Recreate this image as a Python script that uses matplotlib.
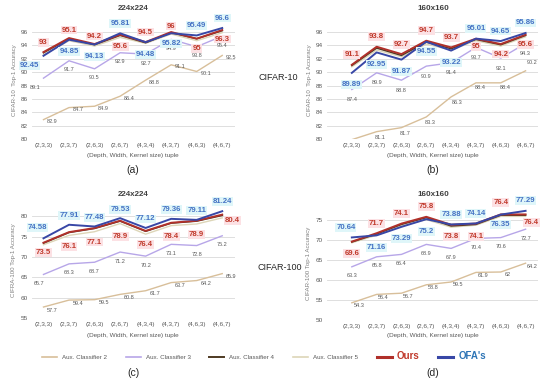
import matplotlib
matplotlib.use('Agg')
import matplotlib.pyplot as plt
from matplotlib.lines import Line2D

plt.rcParams['font.family'] = ['Liberation Sans', 'DejaVu Sans']

tuples = ['(2,3,3)', '(2,3,7)', '(2,6,3)', '(2,6,7)', '(4,3,4)', '(4,3,7)', '(4,6,3)', '(4,6,7)']

# (a) CIFAR-10, 224x224
a_aux2 = [82.9, 84.7, 84.9, 86.4, 88.8, 91.1, 90.1, 92.5]
a_aux3 = [89.1, 91.7, 90.5, 92.9, 92.7, 94.9, 93.8, 95.4]
a_aux4 = [92.9, 95.0, 94.1, 95.5, 94.4, 95.9, 95.0, 96.2]
a_aux5 = [92.6, 94.7, 93.9, 95.2, 94.3, 95.7, 94.7, 95.9]
a_ours = [93, 95.1, 94.2, 95.6, 94.5, 96, 95, 96.3]
a_ofa = [92.45, 94.85, 94.13, 95.81, 94.48, 95.82, 95.49, 96.6]

# (b) CIFAR-10, 160x160
b_aux2 = [79.9, 81.1, 81.7, 83.3, 86.3, 88.4, 88.4, 90.2]
b_aux3 = [87.4, 89.9, 88.8, 90.9, 91.4, 93.7, 92.1, 94.3]
b_aux4 = [91.0, 93.6, 92.5, 94.5, 93.5, 94.9, 94.1, 95.5]
b_aux5 = [90.8, 93.3, 92.3, 94.2, 93.3, 94.7, 93.9, 95.3]
b_ours = [91.1, 93.8, 92.7, 94.7, 93.7, 95, 94.2, 95.6]
b_ofa = [89.89, 92.95, 91.87, 94.55, 93.22, 95.01, 94.65, 95.86]

# (c) CIFAR-100, 224x224
c_aux2 = [57.7, 59.4, 59.5, 60.8, 61.7, 63.7, 64.2, 65.9]
c_aux3 = [65.7, 68.3, 68.7, 71.2, 70.2, 73.1, 72.8, 75.2]
c_aux4 = [73.4, 76.0, 77.0, 78.8, 76.3, 78.3, 78.8, 80.2]
c_aux5 = [73.0, 75.3, 76.2, 78.2, 75.6, 77.7, 78.1, 79.6]
c_ours = [73.5, 76.1, 77.1, 78.9, 76.4, 78.4, 78.9, 80.4]
c_ofa = [74.58, 77.91, 77.48, 79.53, 77.12, 79.36, 79.11, 81.24]

# (d) CIFAR-100, 160x160
d_aux2 = [54.3, 56.4, 56.7, 58.8, 59.5, 61.9, 62, 64.2]
d_aux3 = [63.3, 65.8, 66.4, 68.9, 67.9, 70.4, 70.6, 72.7]
d_aux4 = [69.5, 71.5, 73.9, 75.6, 73.5, 73.9, 76.2, 76.2]
d_aux5 = [69.3, 71.2, 73.5, 75.1, 73.2, 73.7, 75.9, 75.9]
d_ours = [69.6, 71.7, 74.1, 75.8, 73.8, 74.1, 76.4, 76.4]
d_ofa = [70.64, 71.16, 73.29, 75.2, 73.88, 74.14, 76.35, 77.29]

C_AUX2 = '#D8BF9A'
C_AUX3 = '#B7A6E8'
C_AUX4 = '#4E3A22'
C_AUX5 = '#DDD6B8'
C_OURS = '#B0302A'
C_OFA = '#3847A6'
PX = 0.72  # px -> points at 100 dpi


def label_points(ax, vals, dys, dxs, color, size, bold=False, bg=None, skip=()):
    for i, v in enumerate(vals):
        if i in skip:
            continue
        kw = {}
        if bg:
            kw['bbox'] = dict(boxstyle='square,pad=0.12', fc=bg, ec='none')
        ax.annotate('%g' % v, (i, v), xytext=(dxs[i] * PX, dys[i] * PX),
                    textcoords='offset points', ha='center', va='center',
                    fontsize=size, color=color,
                    fontweight='bold' if bold else 'normal',
                    annotation_clip=False, zorder=10, **kw)


def draw_panel(pos, xlim, ylim, yticks, ylabel, aux2, aux3, aux4, aux5, ours, ofa,
               ours_dy, ofa_dy, ofa_dx, ours_dx, aux3_dy, aux3_dx, aux2_dy, aux2_dx,
               aux2_skip=()):
    ax = fig.add_axes(pos)
    x = range(len(tuples))
    ax.plot(x, aux2, color=C_AUX2, lw=1.0, zorder=3)
    ax.plot(x, aux3, color=C_AUX3, lw=1.0, zorder=3)
    ax.plot(x, aux5, color=C_AUX5, lw=1.0, zorder=3)
    ax.plot(x, aux4, color=C_AUX4, lw=1.1, zorder=4)
    ax.plot(x, ours, color=C_OURS, lw=1.4, zorder=5)
    ax.plot(x, ofa, color=C_OFA, lw=1.4, zorder=6)
    ax.set_xlim(*xlim)
    ax.set_ylim(*ylim)
    ax.set_yticks(yticks)
    ax.set_xticks(list(x))
    ax.set_xticklabels(tuples)
    ax.tick_params(length=0, labelsize=4.6, colors='#595959', pad=3)
    for s in ax.spines.values():
        s.set_visible(False)
    ax.yaxis.grid(True, color='#D9D9D9', lw=0.6)
    ax.set_axisbelow(True)
    ax.set_ylabel(ylabel, fontsize=4.4, color='#7F7F7F', labelpad=3)

    label_points(ax, aux2, aux2_dy, aux2_dx, '#595959', 4.0, skip=aux2_skip)
    label_points(ax, aux3, aux3_dy, aux3_dx, '#595959', 4.0)
    label_points(ax, ours, ours_dy, ours_dx, '#C0392B', 5.6, bold=True, bg='#FCE1E4')
    label_points(ax, ofa, ofa_dy, ofa_dx, '#4472C4', 5.6, bold=True, bg='#DFF6F9')
    return ax


fig = plt.figure(figsize=(5.5, 3.82), dpi=100)

zero = [0] * 8
draw_panel([32 / 550, 1 - 139 / 382, 203 / 550, 117 / 382], (-0.45, 7.5), (80, 97.5),
           range(80, 97, 2), 'CIFAR-10  Top-1 Accuracy',
           a_aux2, a_aux3, a_aux4, a_aux5, a_ours, a_ofa,
           ours_dy=[10, 8, 8, -12, 10, 6, -10, -9], ours_dx=zero,
           ofa_dy=[-10, -12, -12, 10, -12, -10, 10, 10], ofa_dx=[-14, 0, 0, 0, 0, 0, 0, 0],
           aux3_dy=[-9] * 8, aux3_dx=[-8, 0, 0, 0, 0, 0, 0, 0],
           aux2_dy=[-2] * 8, aux2_dx=[9] * 8)

draw_panel([327 / 550, 1 - 139 / 382, 211 / 550, 117 / 382], (-1.0, 7.5), (80, 97.5),
           range(80, 97, 2), 'CIFAR-10  Top-1 Accuracy',
           b_aux2, b_aux3, b_aux4, b_aux5, b_ours, b_ofa,
           ours_dy=[10, 10, 10, 10, 10, -8, -10, -10], ours_dx=zero,
           ofa_dy=[-12, -12, -12, -10, -12, 10, 10, 10], ofa_dx=zero,
           aux3_dy=[-10] * 8, aux3_dx=zero,
           aux2_dy=[-6, -6, -6, -6, -6, -5, -5, 8], aux2_dx=[4, 4, 4, 4, 6, 4, 4, 6],
           aux2_skip=(0,))

draw_panel([32 / 550, 1 - 318 / 382, 203 / 550, 116 / 382], (-0.45, 7.5), (55, 83.5),
           range(55, 81, 5), 'CIFRA-100 Top-1 Accuracy',
           c_aux2, c_aux3, c_aux4, c_aux5, c_ours, c_ofa,
           ours_dy=[-10, -14, -14, -16, -14, -14, -14, -6], ours_dx=[0, 0, 0, 0, 0, 0, 0, 10],
           ofa_dy=[11, 9, 9, 9, 9, 9, 9, 10], ofa_dx=[-6, 0, 0, 0, 0, 0, 0, 0],
           aux3_dy=[-9] * 8, aux3_dx=[-4, 0, 0, 0, 0, 0, 0, 0],
           aux2_dy=[-3] * 8, aux2_dx=[9] * 8)

draw_panel([327 / 550, 1 - 320 / 382, 211 / 550, 114 / 382], (-1.0, 7.5), (50, 78.5),
           range(50, 76, 5), 'CIFAR-100 Top-1 Accuracy',
           d_aux2, d_aux3, d_aux4, d_aux5, d_ours, d_ofa,
           ours_dy=[-12, 10, 10, 10, -12, -13, 12, -8], ours_dx=[0, 0, 0, 0, 0, 0, 0, 6],
           ofa_dy=[10, -12, -12, -12, 10, 10, -10, 10], ofa_dx=[-6, 0, 0, 0, 0, 0, 0, 0],
           aux3_dy=[-9] * 8, aux3_dx=zero,
           aux2_dy=[-3] * 8, aux2_dx=[7] * 8)

# titles, axis captions, panel letters
for cx, cy, t in [(133, 9, '224x224'), (433, 9, '160x160'),
                  (133, 195, '224x224'), (433, 195, '160x160')]:
    fig.text(cx / 550, 1 - cy / 382, t, ha='center', va='center', fontsize=5.8,
             fontweight='bold', color='#404040')
for cx, cy in [(133, 155), (433, 155), (133, 335), (433, 335)]:
    fig.text(cx / 550, 1 - cy / 382, '(Depth, Width, Kernel size) tuple', ha='center',
             va='center', fontsize=4.6, color='#595959')
for cx, cy, t in [(133, 170, '(a)'), (433, 170, '(b)'), (133, 373, '(c)'), (433, 373, '(d)')]:
    fig.text(cx / 550, 1 - cy / 382, t, ha='center', va='center', fontsize=7.5, color='#262626')
fig.text(278 / 550, 1 - 78 / 382, 'CIFAR-10', ha='center', va='center', fontsize=6.5, color='#262626')
fig.text(280 / 550, 1 - 268 / 382, 'CIFAR-100', ha='center', va='center', fontsize=6.5, color='#262626')

handles = [Line2D([], [], color=C_AUX2, lw=1.2), Line2D([], [], color=C_AUX3, lw=1.2),
           Line2D([], [], color=C_AUX4, lw=1.4), Line2D([], [], color=C_AUX5, lw=1.2),
           Line2D([], [], color=C_OURS, lw=2.2), Line2D([], [], color=C_OFA, lw=2.2)]
names = ['Aux. Classifier 2', 'Aux. Classifier 3', 'Aux. Classifier 4',
         'Aux. Classifier 5', 'Ours', "OFA's"]
leg = fig.legend(handles, names, loc='center', bbox_to_anchor=(264 / 550, 1 - 356 / 382),
                 ncol=6, frameon=False, fontsize=4.5, handlelength=2.4,
                 columnspacing=3.0, handletextpad=0.8)
for txt in leg.get_texts():
    txt.set_color('#595959')
leg.get_texts()[4].set_color('#C0392B')
leg.get_texts()[4].set_fontweight('bold')
leg.get_texts()[4].set_fontsize(7)
leg.get_texts()[5].set_color('#2E75B6')
leg.get_texts()[5].set_fontweight('bold')
leg.get_texts()[5].set_fontsize(7)

fig.savefig('out.png', dpi=100)
